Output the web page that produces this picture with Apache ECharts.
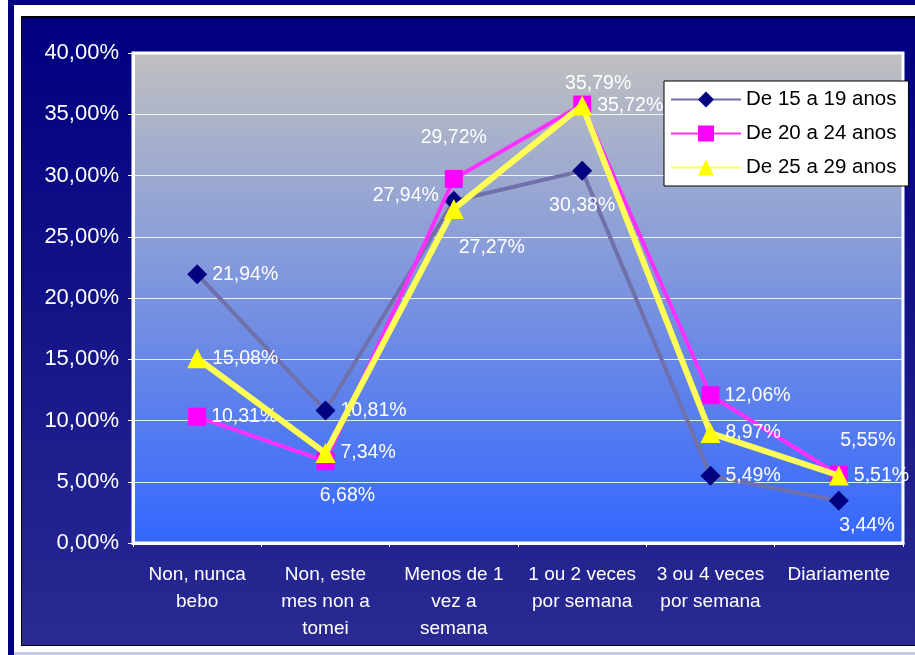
<!DOCTYPE html>
<html>
<head>
<meta charset="utf-8">
<script src="https://cdn.jsdelivr.net/npm/echarts@6/dist/echarts.min.js"></script>
<style>
html,body{margin:0;padding:0;background:#fff;}
#c{width:915px;height:655px;}
</style>
</head>
<body>
<div id="c"></div>
<script>
// ---- data ----
const categories = [
  "Non, nunca\nbebo",
  "Non, este\nmes non a\ntomei",
  "Menos de 1\nvez a\nsemana",
  "1 ou 2 veces\npor semana",
  "3 ou 4 veces\npor semana",
  "Diariamente"
];
const seriesNames = ["De 15 a 19 anos", "De 20 a 24 anos", "De 25 a 29 anos"];
const s15_19 = [21.94, 10.81, 27.94, 30.38, 5.49, 3.44];
const s20_24 = [10.31, 6.68, 29.72, 35.79, 12.06, 5.55];
const s25_29 = [15.08, 7.34, 27.27, 35.72, 8.97, 5.51];
const yTicks = [0, 5, 10, 15, 20, 25, 30, 35, 40];

// ---- label placement (style only) ----
const labelPlace = [
  [{p:'right'},{p:'right'},{p:'left',o:[0,-5]},{p:'bottom',o:[0,10]},{p:'right'},{p:'bottom',o:[28,0]}],
  [{p:'right'},{p:'bottom',o:[22,10]},{p:'top',o:[0,-17]},{p:'top',o:[16,3]},{p:'right'},{p:'top',o:[29,-10]}],
  [{p:'right'},{p:'right'},{p:'bottom',o:[38,14]},{p:'right'},{p:'right'},{p:'right'}]
];

function fmt(v){ return v.toFixed(2).replace('.', ',') + '%'; }

function buildData(values, places){
  return values.map((v,i)=>({
    value: v,
    label: {position: places[i].p, offset: places[i].o || [0,0]}
  }));
}

const FONT = '"Liberation Sans", Arial, sans-serif';

const labelBase = {
  show: true, color: '#ffffff', fontFamily: FONT,
  fontSize: 19.5, distance: 5, formatter: p => fmt(p.value)
};

const styles = [
  {line:'#7070aa', lw:4, sym:'diamond', size:20, color:'#000080'},
  {line:'#ff30ff', lw:4, sym:'rect', size:18, color:'#ff00ff'},
  {line:'#ffff55', lw:6, sym:'triangle', size:20, color:'#ffff00'}
];
const allValues = [s15_19, s20_24, s25_29];

const series = allValues.map((vals, k)=>({
  name: seriesNames[k],
  type: 'line',
  data: buildData(vals, labelPlace[k]),
  symbol: styles[k].sym,
  symbolSize: styles[k].size,
  lineStyle: {color: styles[k].line, width: styles[k].lw},
  itemStyle: {color: styles[k].color},
  label: labelBase,
  z: 3 + k
}));

const chart = echarts.init(document.getElementById('c'), null, {renderer:'canvas'});
chart.setOption({
  animation: false,
  backgroundColor: '#ffffff',
  graphic: [
    {type:'rect', z:-10, shape:{x:8, y:0, width:907, height:655}, style:{fill:'#000080'}},
    {type:'rect', z:-9, shape:{x:14, y:5, width:901, height:650}, style:{fill:'#ffffff'}},
    {type:'rect', z:-9, shape:{x:14, y:652, width:901, height:3}, style:{fill:'#c4cae8'}},
    {type:'rect', z:-8, shape:{x:21, y:16, width:894, height:630}, style:{fill:'#000000'}},
    {type:'rect', z:-7, shape:{x:22, y:18, width:893, height:627},
      style:{fill: new echarts.graphic.LinearGradient(0,0,0,1,[{offset:0,color:'#000080'},{offset:1,color:'#2a2a92'}])}}
  ],
  legend: {
    orient: 'vertical',
    left: 664, top: 81,
    backgroundColor: '#ffffff',
    borderColor: '#000000', borderWidth: 1,
    padding: [8, 12, 8, 6],
    itemWidth: 70, itemHeight: 20, itemGap: 13,
    textStyle: {color:'#000000', fontSize: 20.5, fontFamily: FONT},
    data: seriesNames
  },
  grid: {
    left: 133, right: 12, top: 53, bottom: 112,
    show: true,
    borderColor: '#ffffff', borderWidth: 3,
    backgroundColor: new echarts.graphic.LinearGradient(0,0,0,1,[
      {offset:0, color:'#c0c0c0'},
      {offset:1, color:'#3366ff'}
    ]),
    containLabel: false
  },
  xAxis: {
    type: 'category',
    data: categories,
    boundaryGap: true,
    axisLine: {lineStyle:{color:'#ffffff', width:3}},
    axisTick: {show:true, length:4, lineStyle:{color:'#ffffff'}},
    axisLabel: {color:'#ffffff', fontSize:19, lineHeight:27, margin:18, interval:0,
      fontFamily: FONT, align:'center'}
  },
  yAxis: {
    type: 'value',
    min: yTicks[0], max: yTicks[yTicks.length-1], interval: 5,
    axisLine: {show:true, lineStyle:{color:'#ffffff', width:3}},
    axisTick: {show:true, length:5, lineStyle:{color:'#ffffff'}},
    axisLabel: {color:'#ffffff', fontSize:22, margin:14,
      fontFamily: FONT, formatter: v => fmt(v)},
    splitLine: {show:true, lineStyle:{color:'rgba(255,255,255,0.85)', width:1}}
  },
  series: series
});
</script>
</body>
</html>
